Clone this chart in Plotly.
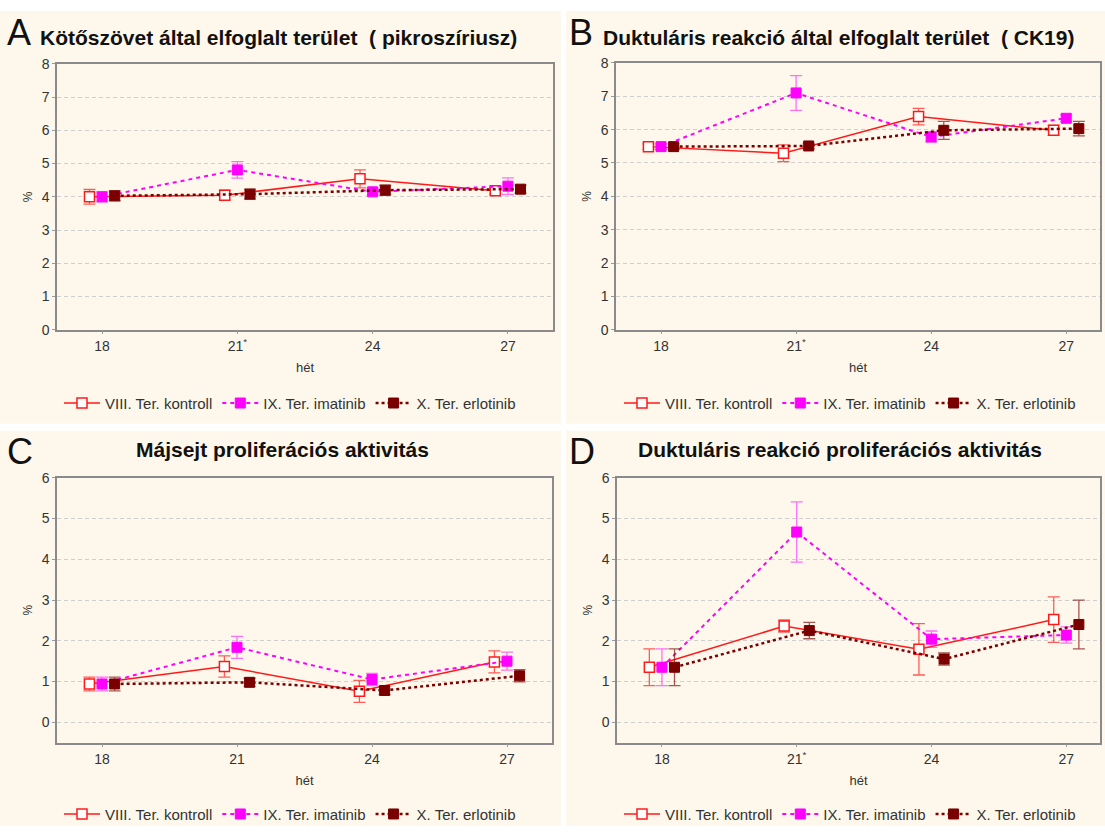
import plotly.graph_objects as go

weeks = [18, 21, 24, 27]
series_names = ["VIII. Ter. kontroll", "IX. Ter. imatinib", "X. Ter. erlotinib"]

# Panel A: Kötőszövet által elfoglalt terület (pikroszíriusz)
a_kontroll = [4.00, 4.05, 4.54, 4.18]
a_kontroll_err = [0.22, 0.15, 0.27, 0.10]
a_imatinib = [4.00, 4.81, 4.15, 4.32]
a_imatinib_err = [0.15, 0.25, 0.10, 0.25]
a_erlotinib = [4.03, 4.08, 4.20, 4.23]
a_erlotinib_err = [0.15, 0.15, 0.15, 0.12]

# Panel B: Duktuláris reakció által elfoglalt terület (CK19)
b_kontroll = [5.49, 5.29, 6.39, 5.98]
b_kontroll_err = [0.08, 0.25, 0.25, 0.15]
b_imatinib = [5.49, 7.10, 5.78, 6.34]
b_imatinib_err = [0.08, 0.52, 0.15, 0.10]
b_erlotinib = [5.49, 5.51, 5.98, 6.03]
b_erlotinib_err = [0.08, 0.08, 0.27, 0.22]

# Panel C: Májsejt proliferációs aktivitás
c_kontroll = [0.94, 1.37, 0.76, 1.48]
c_kontroll_err = [0.17, 0.26, 0.27, 0.27]
c_imatinib = [0.94, 1.84, 1.05, 1.50]
c_imatinib_err = [0.17, 0.27, 0.15, 0.22]
c_erlotinib = [0.94, 0.98, 0.78, 1.14]
c_erlotinib_err = [0.17, 0.10, 0.10, 0.15]

# Panel D: Duktuláris reakció proliferációs aktivitás
d_kontroll = [1.35, 2.36, 1.79, 2.52]
d_kontroll_err = [0.45, 0.15, 0.63, 0.56]
d_imatinib = [1.35, 4.67, 2.04, 2.14]
d_imatinib_err = [0.45, 0.74, 0.20, 0.20]
d_erlotinib = [1.35, 2.25, 1.55, 2.40]
d_erlotinib_err = [0.45, 0.20, 0.15, 0.60]

tick_labels_star = ["18", "21<sup>*</sup>", "24", "27"]
tick_labels_plain = ["18", "21", "24", "27"]

W, H = 1105, 834
FONT = "Liberation Sans, Arial, sans-serif"
CREAM = "#fdf8eb"

styles = [
    dict(color="#ff1a1a", err="rgba(255,40,40,0.75)", dash="solid", width=1.5,
         marker=dict(symbol="square", size=10, color="white", line=dict(color="#ff1a1a", width=1.5)), offset=-0.28),
    dict(color="#ff00ff", err="rgba(255,0,255,0.55)", dash="4px,4px", width=2,
         marker=dict(symbol="square", size=10, color="#ff00ff", line=dict(color="#ff00ff", width=1)), offset=0.0),
    dict(color="#7a0000", err="rgba(122,0,0,0.65)", dash="dot", width=2.5,
         marker=dict(symbol="square", size=10, color="#7a0000", line=dict(color="#7a0000", width=1)), offset=0.28),
]

panels = [
    dict(vals=[a_kontroll, a_imatinib, a_erlotinib], errs=[a_kontroll_err, a_imatinib_err, a_erlotinib_err],
         ticks=tick_labels_star, yr=[0, 8], dtick=1, xr=[17, 28],
         xd=[57, 553], yd=[57, 328], legend="legend"),
    dict(vals=[b_kontroll, b_imatinib, b_erlotinib], errs=[b_kontroll_err, b_imatinib_err, b_erlotinib_err],
         ticks=tick_labels_star, yr=[0, 8], dtick=1, xr=[17, 27.75],
         xd=[616, 1100], yd=[56, 328], legend="legend2"),
    dict(vals=[c_kontroll, c_imatinib, c_erlotinib], errs=[c_kontroll_err, c_imatinib_err, c_erlotinib_err],
         ticks=tick_labels_plain, yr=[-0.5, 6], dtick=1, xr=[17, 28],
         xd=[57, 552], yd=[479, 749], legend="legend3"),
    dict(vals=[d_kontroll, d_imatinib, d_erlotinib], errs=[d_kontroll_err, d_imatinib_err, d_erlotinib_err],
         ticks=tick_labels_star, yr=[-0.5, 6], dtick=1, xr=[17, 27.75],
         xd=[617, 1100], yd=[479, 749], legend="legend4"),
]

fig = go.Figure()
layout = {}
for i, p in enumerate(panels):
    n = "" if i == 0 else str(i + 1)
    xa, ya = "x" + n, "y" + n
    for s, name, vals, errs in zip(styles, series_names, p["vals"], p["errs"]):
        fig.add_trace(go.Scatter(
            x=[w + s["offset"] for w in weeks], y=vals, name=name,
            mode="lines+markers", xaxis=xa, yaxis=ya, legend=p["legend"],
            line=dict(color=s["color"], dash=s["dash"], width=s["width"]),
            marker=s["marker"],
            error_y=dict(type="data", array=errs, visible=True, color=s["err"], thickness=1.3, width=6),
        ))
    layout["xaxis" + n] = dict(
        domain=[p["xd"][0] / W, p["xd"][1] / W], anchor=ya, range=p["xr"],
        tickvals=weeks, ticktext=p["ticks"], ticks="outside", ticklen=3, tickcolor="#999",
        showgrid=False, zeroline=False, showline=True, linecolor="#8a8a8a", linewidth=1.5, mirror=True,
        tickfont=dict(size=14, color="#333", family=FONT),
        title=dict(text="hét", font=dict(size=13, color="#333", family=FONT), standoff=10),
    )
    layout["yaxis" + n] = dict(
        domain=[1 - p["yd"][1] / H, 1 - p["yd"][0] / H], anchor=xa, range=p["yr"],
        tick0=0, dtick=p["dtick"], ticks="outside", ticklen=3, tickcolor="#999",
        showgrid=True, gridcolor="#cfcfcf", griddash="4px,3px", gridwidth=1,
        zeroline=False, showline=True, linecolor="#8a8a8a", linewidth=1.5, mirror=True,
        tickfont=dict(size=14, color="#333", family=FONT),
        title=dict(text="%", font=dict(size=12, color="#333", family=FONT), standoff=6),
    )

leg_common = dict(orientation="h", xanchor="center", yanchor="middle", bgcolor="rgba(0,0,0,0)",
                  font=dict(size=15, color="#333", family=FONT), itemwidth=36, tracegroupgap=0)
layout["legend"] = dict(x=290 / W, y=1 - 403 / H, **leg_common)
layout["legend2"] = dict(x=850 / W, y=1 - 403 / H, **leg_common)
layout["legend3"] = dict(x=290 / W, y=1 - 822 / H, **leg_common)
layout["legend4"] = dict(x=850 / W, y=1 - 822 / H, **leg_common)

# cream panel backgrounds
shapes = []
for (x0, x1, y0, y1) in [(0, 561, 3, 424), (566, 1105, 3, 424), (0, 561, 431, 834), (566, 1105, 431, 834)]:
    shapes.append(dict(type="rect", xref="paper", yref="paper", x0=x0 / W, x1=x1 / W,
                       y0=1 - y1 / H, y1=1 - y0 / H, fillcolor=CREAM, line=dict(width=0), layer="below"))

annotations = []
def ann(text, x, y, size, xanchor="left", bold=False):
    annotations.append(dict(text=("<b>%s</b>" % text) if bold else text, x=x / W, y=1 - y / H,
                            xref="paper", yref="paper", xanchor=xanchor, yanchor="middle",
                            showarrow=False, font=dict(size=size, color="#111", family=FONT)))

ann("A", 5, 25, 36)
ann("Kötőszövet által elfoglalt terület  ( pikroszíriusz)", 38, 30, 21, bold=True)
ann("B", 567, 25, 36)
ann("Duktuláris reakció által elfoglalt terület  ( CK19)", 601, 30, 21, bold=True)
ann("C", 5, 452, 36)
ann("Májsejt proliferációs aktivitás", 282, 450, 21, xanchor="center", bold=True)
ann("D", 567, 452, 36)
ann("Duktuláris reakció proliferációs aktivitás", 840, 450, 21, xanchor="center", bold=True)

fig.update_layout(
    width=W, height=H, margin=dict(l=0, r=0, t=0, b=0),
    paper_bgcolor="white", plot_bgcolor="white",
    shapes=shapes, annotations=annotations, showlegend=True,
    font=dict(family=FONT), **layout,
)

fig.write_html("out.html")
